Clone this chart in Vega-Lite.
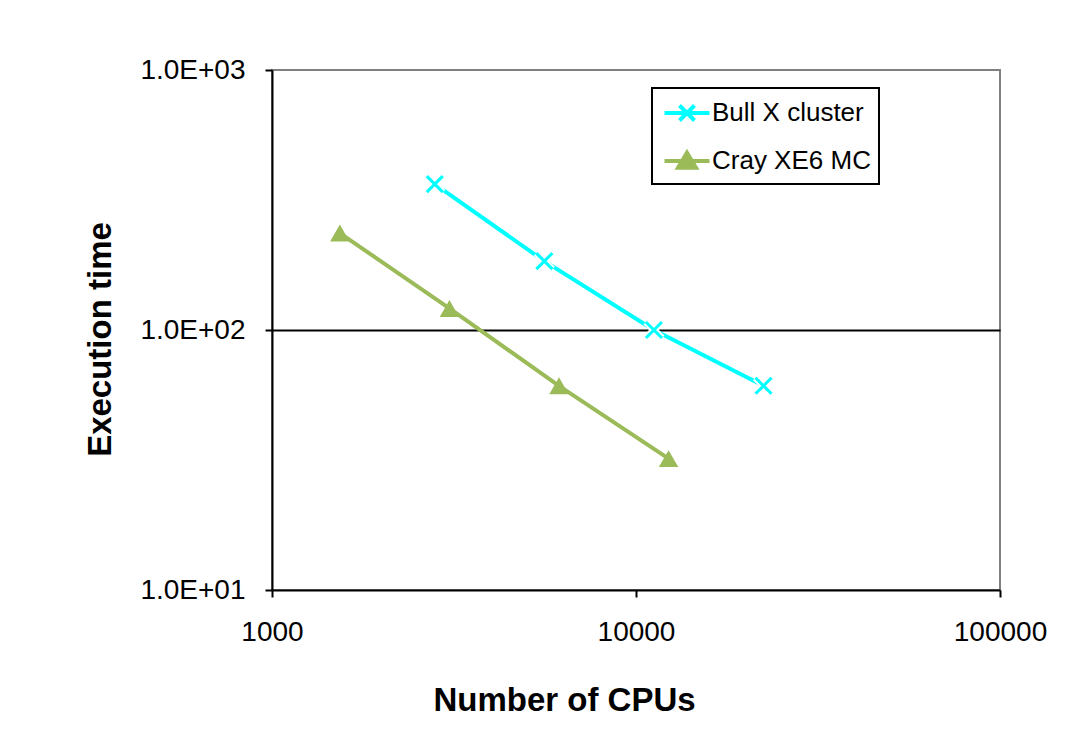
{
  "$schema": "https://vega.github.io/schema/vega-lite/v6.json",
  "autosize": "none",
  "width": 728,
  "height": 520,
  "padding": {"left": 272, "top": 70, "right": 72, "bottom": 152},
  "background": "white",
  "config": {
    "font": "Liberation Sans",
    "view": {"stroke": "#808080", "strokeWidth": 2}
  },
  "data": {
    "values": [
      {"series": "Bull X cluster", "cpus": 2800, "time": 364},
      {"series": "Bull X cluster", "cpus": 5600, "time": 184},
      {"series": "Bull X cluster", "cpus": 11200, "time": 100},
      {"series": "Bull X cluster", "cpus": 22400, "time": 61},
      {"series": "Cray XE6 MC", "cpus": 1536, "time": 236},
      {"series": "Cray XE6 MC", "cpus": 3072, "time": 121},
      {"series": "Cray XE6 MC", "cpus": 6144, "time": 61},
      {"series": "Cray XE6 MC", "cpus": 12288, "time": 32}
    ]
  },
  "encoding": {
    "x": {
      "field": "cpus", "type": "quantitative",
      "scale": {"type": "log", "domain": [1000, 100000], "nice": false},
      "axis": {
        "values": [1000, 10000, 100000], "format": "d",
        "title": "Number of CPUs", "grid": false,
        "domainColor": "black", "domainWidth": 2,
        "tickColor": "black", "tickWidth": 2, "tickSize": 7,
        "labelFontSize": 28, "labelColor": "black", "labelPadding": 21,
        "labelFlush": false,
        "titleFontSize": 33, "titleFontWeight": "bold", "titleColor": "black",
        "titlePadding": 38,
        "titleX": 292, "titleAlign": "center", "titleAnchor": null
      }
    },
    "y": {
      "field": "time", "type": "quantitative",
      "scale": {"type": "log", "domain": [10, 1000], "nice": false},
      "axis": {
        "values": [10, 100, 1000],
        "labelExpr": "datum.value >= 1000 ? '1.0E+03' : datum.value >= 100 ? '1.0E+02' : '1.0E+01'",
        "title": "Execution time",
        "grid": true, "gridColor": "black", "gridWidth": 2,
        "gridOpacity": {"condition": {"test": "datum.value === 100", "value": 1}, "value": 0},
        "domainColor": "black", "domainWidth": 2,
        "tickColor": "black", "tickWidth": 2, "tickSize": 7,
        "labelFontSize": 28, "labelColor": "black", "labelPadding": 20,
        "labelFlush": false,
        "titleFontSize": 33, "titleFontWeight": "bold", "titleColor": "black",
        "titlePadding": 22,
        "titleY": 269, "titleAlign": "center", "titleAnchor": null
      }
    }
  },
  "layer": [
    {
      "mark": {"type": "line", "strokeWidth": 4},
      "encoding": {
        "color": {
          "field": "series", "type": "nominal",
          "scale": {"domain": ["Bull X cluster", "Cray XE6 MC"], "range": ["#00FFFF", "#9BBB59"]},
          "legend": {
            "title": null,
            "orient": "none",
            "legendX": 380,
            "legendY": 18,
            "padding": 8,
            "strokeColor": "black",
            "symbolSize": 900,
            "symbolOffset": 10,
            "labelOffset": 8,
            "rowPadding": 15,
            "labelFontSize": 26,
            "labelColor": "black",
            "labelLimit": 400,
            "encode": {
              "legend": {"update": {"strokeWidth": {"value": 2}, "fill": {"value": "white"}}},
              "symbols": {
                "update": {
                  "shape": [
                    {"test": "datum.value === 'Bull X cluster'", "value": "M-1.5,0L1.5,0M-0.5,-0.5L0.5,0.5M-0.5,0.5L0.5,-0.5"},
                    {"value": "M-1.5,0L1.5,0M0,-0.55L0.6,0.45L-0.6,0.45Z"}
                  ],
                  "stroke": [
                    {"test": "datum.value === 'Bull X cluster'", "value": "#00FFFF"},
                    {"value": "#9BBB59"}
                  ],
                  "fill": [
                    {"test": "datum.value === 'Bull X cluster'", "value": "#00FFFF"},
                    {"value": "#9BBB59"}
                  ],
                  "strokeWidth": {"value": 4},
                  "opacity": {"value": 1}
                }
              }
            }
          }
        }
      }
    },
    {
      "transform": [{"filter": "datum.series === 'Bull X cluster'"}],
      "mark": {"type": "point", "shape": "M-1,-1L1,1M-1,1L1,-1", "size": 256, "filled": false, "stroke": "white", "strokeWidth": 7, "opacity": 1}
    },
    {
      "transform": [{"filter": "datum.series === 'Bull X cluster'"}],
      "mark": {"type": "point", "shape": "M-1,-1L1,1M-1,1L1,-1", "size": 256, "filled": false, "stroke": "#00FFFF", "strokeWidth": 3, "opacity": 1}
    },
    {
      "transform": [{"filter": "datum.series === 'Cray XE6 MC'"}],
      "mark": {"type": "point", "shape": "triangle-up", "size": 380, "filled": true, "fill": "#9BBB59", "opacity": 1}
    }
  ]
}
